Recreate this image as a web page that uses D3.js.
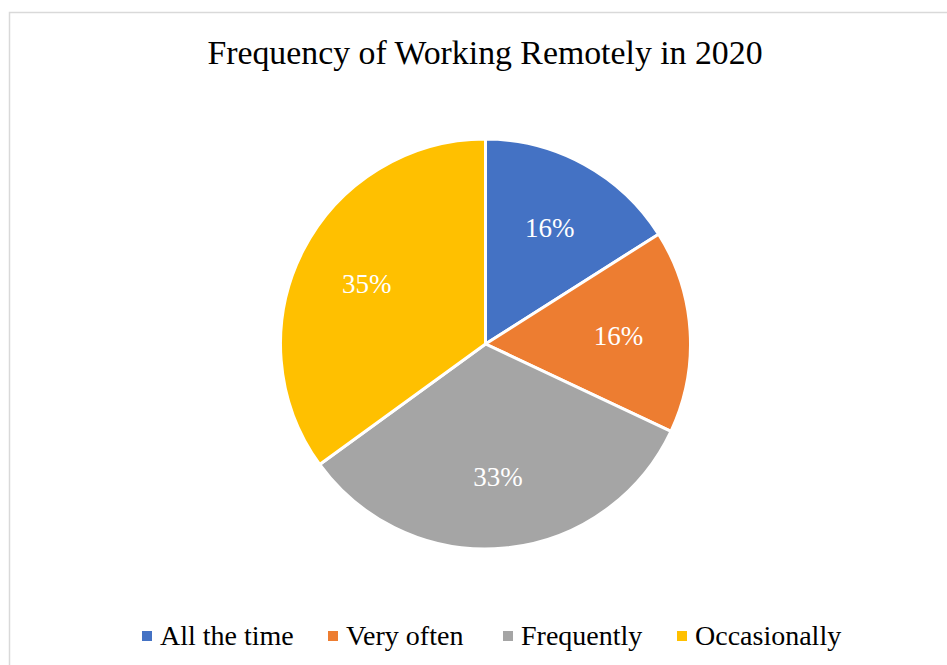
<!DOCTYPE html>
<html>
<head>
<meta charset="utf-8">
<script src="https://cdn.jsdelivr.net/npm/d3@7/dist/d3.min.js"></script>
<style>
  html, body { margin: 0; padding: 0; background: #fff; }
  svg { display: block; }
  text { font-family: "Liberation Serif", "Times New Roman", serif; }
</style>
</head>
<body>
<svg id="chart" width="947" height="665"></svg>
<script>
// Survey results: how often respondents worked remotely in 2020
const categories = ["All the time", "Very often", "Frequently", "Occasionally"];
const shares = [16, 16, 33, 35];
const colors = ["#4472C4", "#ED7D31", "#A5A5A5", "#FFC000"];
const title = "Frequency of Working Remotely in 2020";

const width = 947, height = 665;
const svg = d3.select("#chart");

// Chart area frame
svg.append("rect")
  .attr("x", 9.5).attr("y", 12.5)
  .attr("width", 960).attr("height", 700)
  .attr("fill", "#fff")
  .attr("stroke", "#d9d9d9")
  .attr("stroke-width", 1.5);

svg.append("text")
  .attr("x", 485).attr("y", 64)
  .attr("text-anchor", "middle")
  .attr("font-size", 33.8)
  .attr("fill", "#000")
  .text(title);

const cx = 485.5, cy = 344, radius = 205;

const data = categories.map((c, i) => ({ name: c, value: shares[i], color: colors[i] }));

const pie = d3.pie().value(d => d.value).sort(null);
const arc = d3.arc().innerRadius(0).outerRadius(radius);
const labelR = radius * 0.65;
const labelArc = d3.arc().innerRadius(labelR).outerRadius(labelR);

const g = svg.append("g").attr("transform", `translate(${cx},${cy})`);
const arcs = pie(data);

g.selectAll("path.slice")
  .data(arcs)
  .join("path")
  .attr("class", "slice")
  .attr("d", arc)
  .attr("fill", d => d.data.color)
  .attr("stroke", "#fff")
  .attr("stroke-width", 3)
  .attr("stroke-linejoin", "round");

const fmt = d3.format(".0%");
g.selectAll("text.pct")
  .data(arcs)
  .join("text")
  .attr("class", "pct")
  .attr("transform", d => `translate(${labelArc.centroid(d)})`)
  .attr("text-anchor", "middle")
  .attr("dy", "0.36em")
  .attr("font-size", 27)
  .attr("fill", "#fff")
  .text(d => fmt(d.data.value / d3.sum(shares)));

// Legend along the bottom
const legend = svg.append("g");
const itemX = [142, 328, 503, 677];
const items = legend.selectAll("g.item")
  .data(data)
  .join("g")
  .attr("class", "item")
  .attr("transform", (d, i) => `translate(${itemX[i]},0)`);

items.append("rect")
  .attr("x", 0).attr("y", 631)
  .attr("width", 10).attr("height", 10)
  .attr("fill", d => d.color);

items.append("text")
  .attr("x", 18).attr("y", 645)
  .attr("font-size", 28)
  .attr("fill", "#000")
  .text(d => d.name);
</script>
</body>
</html>
